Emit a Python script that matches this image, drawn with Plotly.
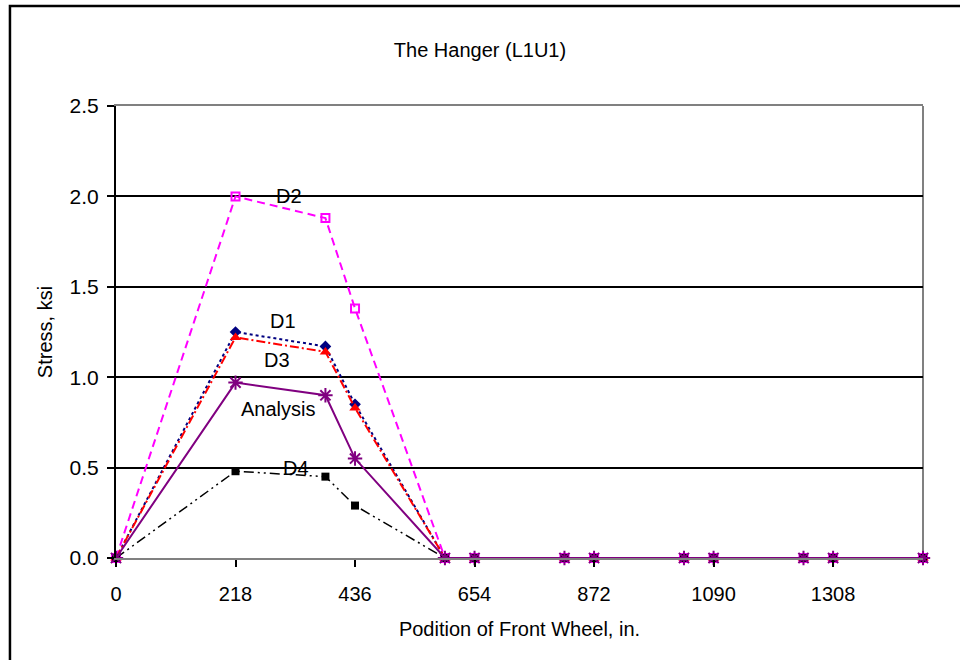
import plotly.graph_objects as go

# Data
positions = [0, 218, 382, 436, 600, 654, 818, 872, 1036, 1090, 1254, 1308, 1472]
d1 = [0, 1.25, 1.17, 0.85, 0, 0, 0, 0, 0, 0, 0, 0, 0]
d2 = [0, 2.00, 1.88, 1.38, 0, 0, 0, 0, 0, 0, 0, 0, 0]
d3 = [0, 1.22, 1.14, 0.83, 0, 0, 0, 0, 0, 0, 0, 0, 0]
d4 = [0, 0.48, 0.45, 0.29, 0, 0, 0, 0, 0, 0, 0, 0, 0]
analysis = [0, 0.97, 0.90, 0.55, 0, 0, 0, 0, 0, 0, 0, 0, 0]
x_ticks = [0, 218, 436, 654, 872, 1090, 1308]
y_ticks = [0.0, 0.5, 1.0, 1.5, 2.0, 2.5]

# label positions (data coords)
labels = ["D2", "D1", "D3", "Analysis", "D4"]
label_x = [315, 304, 293, 295, 329]
label_y = [2.0, 1.31, 1.095, 0.824, 0.50]

FONT = "Liberation Sans, Arial, sans-serif"

fig = go.Figure()
fig.add_trace(go.Scatter(x=positions, y=d1, name="D1", mode="lines+markers", cliponaxis=False,
                         line=dict(color="#000080", width=2, dash="dot"),
                         marker=dict(symbol="diamond", size=9, color="#000080")))
fig.add_trace(go.Scatter(x=positions, y=d2, name="D2", mode="lines+markers", cliponaxis=False,
                         line=dict(color="#FF00FF", width=2, dash="8px,5px"),
                         marker=dict(symbol="square-open", size=8, color="#FF00FF",
                                     line=dict(width=2, color="#FF00FF"))))
fig.add_trace(go.Scatter(x=positions, y=d3, name="D3", mode="lines+markers", cliponaxis=False,
                         line=dict(color="#FF0000", width=2, dash="9px,3px,2px,3px"),
                         marker=dict(symbol="triangle-up", size=10, color="#FF0000")))
fig.add_trace(go.Scatter(x=positions, y=d4, name="D4", mode="lines+markers", cliponaxis=False,
                         line=dict(color="#000000", width=1.5, dash="10px,4px,2px,4px,2px,4px"),
                         marker=dict(symbol="square", size=8, color="#000000")))
fig.add_trace(go.Scatter(x=positions, y=analysis, name="Analysis", mode="lines+markers", cliponaxis=False,
                         line=dict(color="#800080", width=2),
                         marker=dict(symbol="asterisk-open", size=12, color="#800080",
                                     line=dict(width=2, color="#800080"))))

for t, lx, ly in zip(labels, label_x, label_y):
    fig.add_annotation(x=lx, y=ly, text=t, showarrow=False,
                       font=dict(family=FONT, size=20, color="black"))

# right border of plot area and outer chart border
fig.add_shape(type="line", xref="paper", yref="paper", x0=1, x1=1, y0=0, y1=1,
              line=dict(color="#808080", width=2), layer="below")
fig.add_shape(type="rect", xref="paper", yref="paper",
              x0=-0.1314, x1=1.06, y0=-0.26, y1=1.2212,
              line=dict(color="black", width=2.5))

fig.update_layout(
    width=960, height=660,
    margin=dict(l=116, r=37, t=106, b=102),
    paper_bgcolor="white", plot_bgcolor="white",
    showlegend=False,
    font=dict(family=FONT, size=20, color="black"),
    title=dict(text="The Hanger (L1U1)", x=0.5, xanchor="center",
               y=1 - 50 / 660, yanchor="middle", yref="container",
               font=dict(family=FONT, size=20, color="black")),
)
fig.update_xaxes(range=[0, 1472], tickmode="array", tickvals=x_ticks,
                 ticktext=[str(v) for v in x_ticks],
                 showgrid=False, zeroline=False,
                 showline=True, linecolor="#808080", linewidth=2, mirror=True,
                 ticks="outside", ticklen=7, tickwidth=2, tickcolor="black",
                 ticklabelstandoff=10,
                 title=dict(text="Podition of Front Wheel, in.", standoff=18,
                            font=dict(family=FONT, size=20)),
                 tickfont=dict(family=FONT, size=20))
fig.update_yaxes(range=[0, 2.5], tickmode="array", tickvals=y_ticks,
                 ticktext=["%.1f" % v for v in y_ticks],
                 showgrid=True, gridcolor="black", gridwidth=2, zeroline=False,
                 showline=True, linecolor="black", linewidth=2,
                 ticks="outside", ticklen=7, tickwidth=2, tickcolor="black",
                 ticklabelstandoff=4,
                 title=dict(text="Stress, ksi", standoff=12,
                            font=dict(family=FONT, size=20)),
                 tickfont=dict(family=FONT, size=21))

fig.write_html("out.html")
